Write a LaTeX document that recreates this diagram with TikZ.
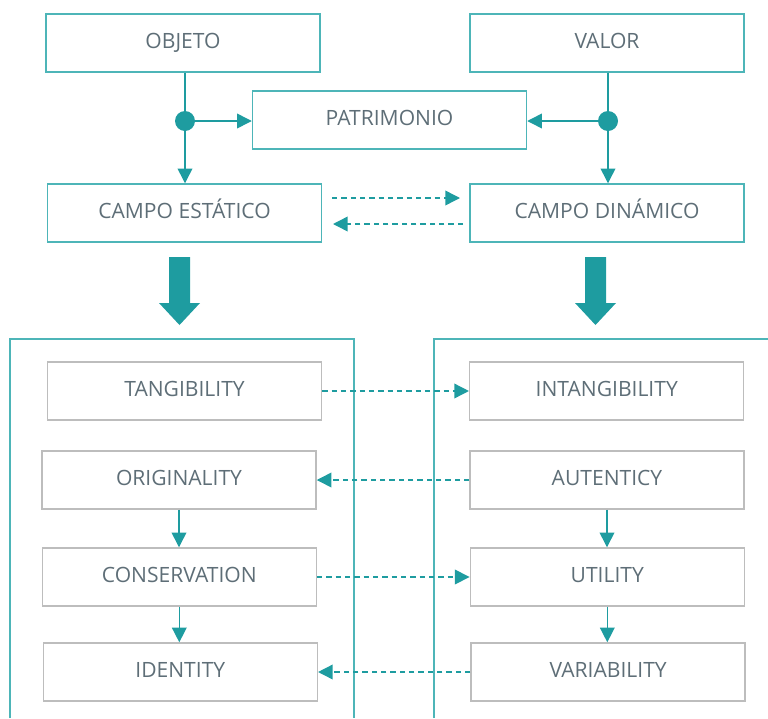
\documentclass[tikz,border=0pt]{standalone}
\usepackage{fontspec}
\setmainfont{Open Sans}
\usetikzlibrary{arrows.meta}
\definecolor{teal}{HTML}{1E9CA0}
\definecolor{tealbox}{HTML}{4DB5B8}
\definecolor{graybox}{HTML}{BDBDBD}
\definecolor{txt}{HTML}{5E6E77}
\tikzset{
  px/.style={x=0.75pt,y=-0.75pt},
  boxtext/.style={text=txt,font=\fontsize{15.8}{18}\selectfont,text height=11.4pt,text depth=3pt},
  topbox/.style={draw=tealbox,line width=1.1pt,minimum width=205.5pt,minimum height=43.5pt,inner sep=0pt,boxtext},
  innerbox/.style={draw=graybox,line width=1.1pt,minimum width=205.5pt,minimum height=43.5pt,inner sep=0pt,boxtext},
  link/.style={draw=teal,line width=1.1pt,-{Triangle[length=11pt,width=11pt]}},
  dlink/.style={link,dash pattern=on 4pt off 3pt},
  bigarrow/.style={fill=teal,draw=none},
  frame/.style={draw=tealbox,line width=1.1pt}
}
\begin{document}
\begin{tikzpicture}[px]
\useasboundingbox (0,0) rectangle (768,718);
% containers for the two fields
\draw[frame] (10,718) -- (10,339) -- (354,339) -- (354,718);
\draw[frame] (434,718) -- (434,339) -- (768,339);
% top level
\node[topbox] (obj) at (183,43) {OBJETO};
\node[topbox] (val) at (607,43) {VALOR};
\node[topbox] (pat) at (389.5,120) {PATRIMONIO};
\node[topbox] (est) at (184.5,213) {CAMPO ESTÁTICO};
\node[topbox] (din) at (607,213) {CAMPO DINÁMICO};
% junction dots
\node[circle,fill=teal,minimum size=15pt,inner sep=0pt] (dl) at (185,121) {};
\node[circle,fill=teal,minimum size=15pt,inner sep=0pt] (dr) at (608,121) {};
\draw[draw=teal,line width=1.1pt] (obj.south -| dl) -- (dl.center);
\draw[draw=teal,line width=1.1pt] (val.south -| dr) -- (dr.center);
\draw[link] (dl.center) -- (dl.center -| pat.west);
\draw[link] (dl.center) -- (dl.center |- est.north);
\draw[link] (dr.center) -- (dr.center -| pat.east);
\draw[link] (dr.center) -- (dr.center |- din.north);
% dashed exchange between the two fields
\coordinate (e1) at (332,198);
\coordinate (e2) at (460,198);
\coordinate (e3) at (463,224);
\coordinate (e4) at (333,224);
\draw[dlink] (e1) -- (e2);
\draw[dlink] (e3) -- (e4);
% big block arrows
\fill[bigarrow] (169,257) -- (190,257) -- (190,303) -- (200,303) -- (179.5,325) -- (159,303) -- (169,303) -- cycle;
\fill[bigarrow] (585,257) -- (606,257) -- (606,303) -- (616,303) -- (595.5,325) -- (575,303) -- (585,303) -- cycle;
% static field
\node[innerbox] (tan) at (184.5,391) {TANGIBILITY};
\node[innerbox] (ori) at (179,480) {ORIGINALITY};
\node[innerbox] (con) at (179.3,577) {CONSERVATION};
\node[innerbox] (ide) at (180.3,672) {IDENTITY};
% dynamic field
\node[innerbox] (int) at (606.7,391) {INTANGIBILITY};
\node[innerbox] (aut) at (607,480) {AUTENTICY};
\node[innerbox] (uti) at (607.3,577) {UTILITY};
\node[innerbox] (var) at (608.2,672) {VARIABILITY};
% flows inside each field
\draw[link] (ori.south) -- (ori.south |- con.north);
\draw[link] (con.south) -- (con.south |- ide.north);
\draw[link] (aut.south) -- (aut.south |- uti.north);
\draw[link] (uti.south) -- (uti.south |- var.north);
% cross links
\draw[dlink] (tan.east) -- (tan.east -| int.west);
\draw[dlink] (aut.west) -- (aut.west -| ori.east);
\draw[dlink] (con.east) -- (con.east -| uti.west);
\draw[dlink] (var.west) -- (var.west -| ide.east);
\end{tikzpicture}
\end{document}
